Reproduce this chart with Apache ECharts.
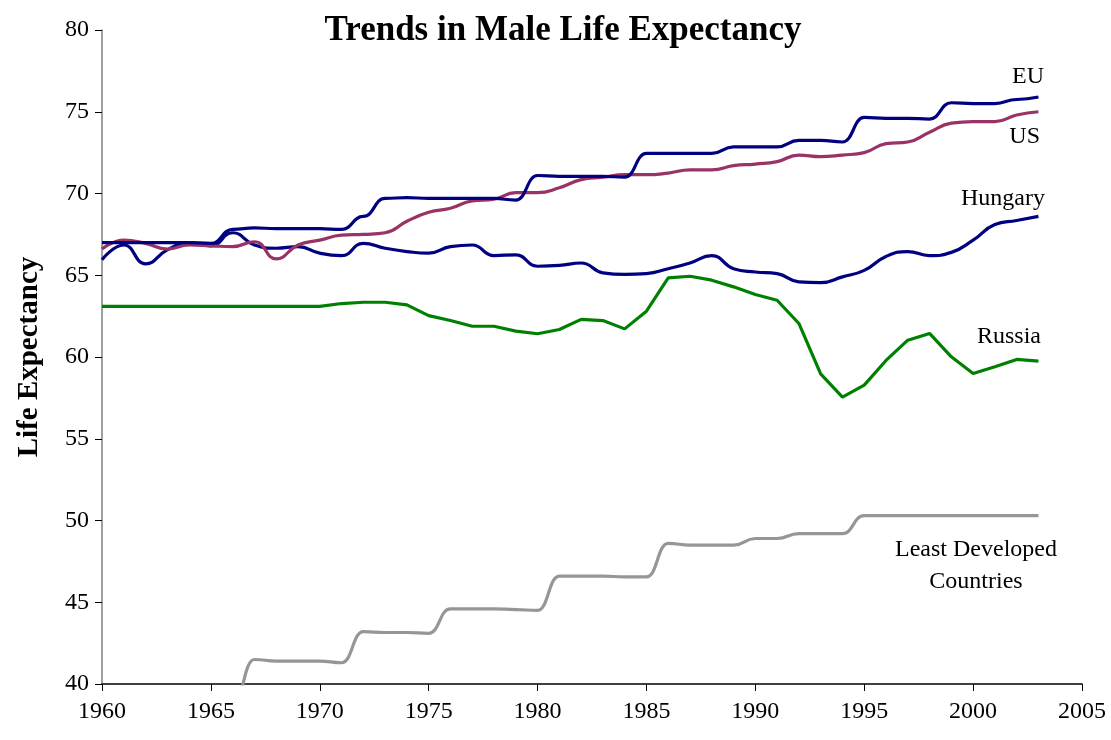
<!DOCTYPE html>
<html>
<head>
<meta charset="utf-8">
<script src="https://cdn.jsdelivr.net/npm/echarts@6/dist/echarts.min.js"></script>
<style>
html,body{margin:0;padding:0;background:#fff;}
#main{width:1111px;height:740px;}
</style>
</head>
<body>
<div id="main"></div>
<script>
// years 1960..2003
var years = [];
for (var y = 1960; y <= 2003; y++) { years.push(y); }

var eu = [67.0,67.0,67.0,67.0,67.0,66.95,67.8,67.9,67.85,67.85,
          67.85,67.8,68.6,69.7,69.75,69.7,69.7,69.7,69.7,69.6,
          71.1,71.05,71.05,71.05,71.0,72.45,72.45,72.45,72.45,72.85,
          72.85,72.85,73.25,73.25,73.15,74.65,74.6,74.6,74.55,75.55,
          75.5,75.5,75.75,75.9];
var us = [66.6,67.15,66.95,66.6,66.85,66.8,66.75,67.05,66.0,66.85,
          67.15,67.45,67.5,67.6,68.3,68.85,69.1,69.55,69.65,70.05,
          70.05,70.35,70.85,71.0,71.15,71.15,71.25,71.45,71.45,71.7,
          71.8,71.95,72.35,72.25,72.35,72.5,73.05,73.15,73.75,74.3,
          74.4,74.4,74.8,75.0];
var hungary = [65.95,66.85,65.7,66.55,67.0,66.8,67.6,66.85,66.65,66.75,
          66.35,66.2,66.95,66.65,66.45,66.35,66.75,66.85,66.2,66.25,
          65.55,65.6,65.75,65.15,65.05,65.1,65.4,65.75,66.2,65.4,
          65.2,65.1,64.6,64.55,64.9,65.3,66.15,66.45,66.2,66.4,
          67.15,68.1,68.35,68.6];
var russia = [63.1,63.1,63.1,63.1,63.1,63.1,63.1,63.1,63.1,63.1,
          63.1,63.27,63.35,63.35,63.19,62.53,62.23,61.88,61.88,61.58,
          61.42,61.68,62.3,62.23,61.72,62.8,64.84,64.94,64.7,64.29,
          63.82,63.47,62.05,58.97,57.55,58.28,59.79,61.03,61.44,60.01,
          58.99,59.4,59.85,59.75];
var ldc = [38.8,38.8,38.8,38.8,38.8,38.8,38.8,41.5,41.4,41.4,
          41.4,41.3,43.2,43.15,43.15,43.1,44.6,44.6,44.6,44.55,
          44.5,46.6,46.6,46.6,46.55,46.55,48.6,48.5,48.5,48.5,
          48.9,48.9,49.2,49.2,49.2,50.3,50.3,50.3,50.3,50.3,
          50.3,50.3,50.3,50.3];

var xTicks = [1960,1965,1970,1975,1980,1985,1990,1995,2000,2005];
var yTicks = [40,45,50,55,60,65,70,75,80];

var serif = '"Liberation Serif","Times New Roman",serif';

function pairs(vals) {
	var out = [];
	for (var i = 0; i < years.length; i++) { out.push([years[i], vals[i]]); }
	return out;
}

function mkLine(name, vals, color, smooth, mono) {
	var s = {
		name: name,
		type: 'line',
		data: pairs(vals),
		showSymbol: false,
		smooth: smooth,
		clip: true,
		lineStyle: { color: color, width: 3.2 },
		itemStyle: { color: color }
	};
	if (mono) { s.smoothMonotone = mono; }
	return s;
}

// 曲线旁的文字标签
function tag(text, x, y, align) {
	return {
		type: 'text', x: x, y: y,
		style: { text: text, font: '24px ' + serif, fill: '#000', align: align, verticalAlign: 'middle' }
	};
}

var myChart = echarts.init(document.getElementById('main'));
myChart.setOption({
	animation: false,
	backgroundColor: '#fff',
	title: {
		text: 'Trends in Male Life Expectancy',
		left: 558, top: 8, textAlign: 'center',
		textStyle: { fontFamily: serif, fontWeight: 'bold', fontSize: 35, color: '#000' }
	},
	grid: { left: 102, right: 29, top: 30, bottom: 56 },
	xAxis: {
		type: 'value',
		min: xTicks[0], max: xTicks[xTicks.length - 1], interval: 5,
		splitLine: { show: false },
		axisLine: { lineStyle: { color: '#000', width: 1.5 } },
		axisTick: { length: 7, lineStyle: { color: '#000' } },
		axisLabel: { fontFamily: serif, fontSize: 24, color: '#000', margin: 16,
			formatter: function (v) { return String(v); } }
	},
	yAxis: {
		type: 'value',
		min: yTicks[0], max: yTicks[yTicks.length - 1], interval: 5,
		name: 'Life Expectancy',
		nameLocation: 'middle',
		nameGap: 58,
		nameTextStyle: { fontFamily: serif, fontWeight: 'bold', fontSize: 29, color: '#000' },
		splitLine: { show: false },
		axisLine: { show: true, lineStyle: { color: '#808080', width: 1.5 } },
		axisTick: { show: true, length: 7, lineStyle: { color: '#000' } },
		axisLabel: { fontFamily: serif, fontSize: 24, color: '#000', margin: 13 }
	},
	series: [
		mkLine('Least Developed Countries', ldc, '#969696', 0.5, 'x'),
		mkLine('Russia', russia, '#008000', false),
		mkLine('Hungary', hungary, '#000080', 0.5),
		mkLine('US', us, '#993366', 0.5),
		mkLine('EU', eu, '#000080', 0.5, 'x')
	],
	graphic: [
		tag('EU', 1044, 77, 'right'),
		tag('US', 1040, 137, 'right'),
		tag('Hungary', 1045, 199, 'right'),
		tag('Russia', 1041, 337, 'right'),
		tag('Least Developed', 976, 550, 'center'),
		tag('Countries', 976, 582, 'center')
	]
});
</script>
</body>
</html>
